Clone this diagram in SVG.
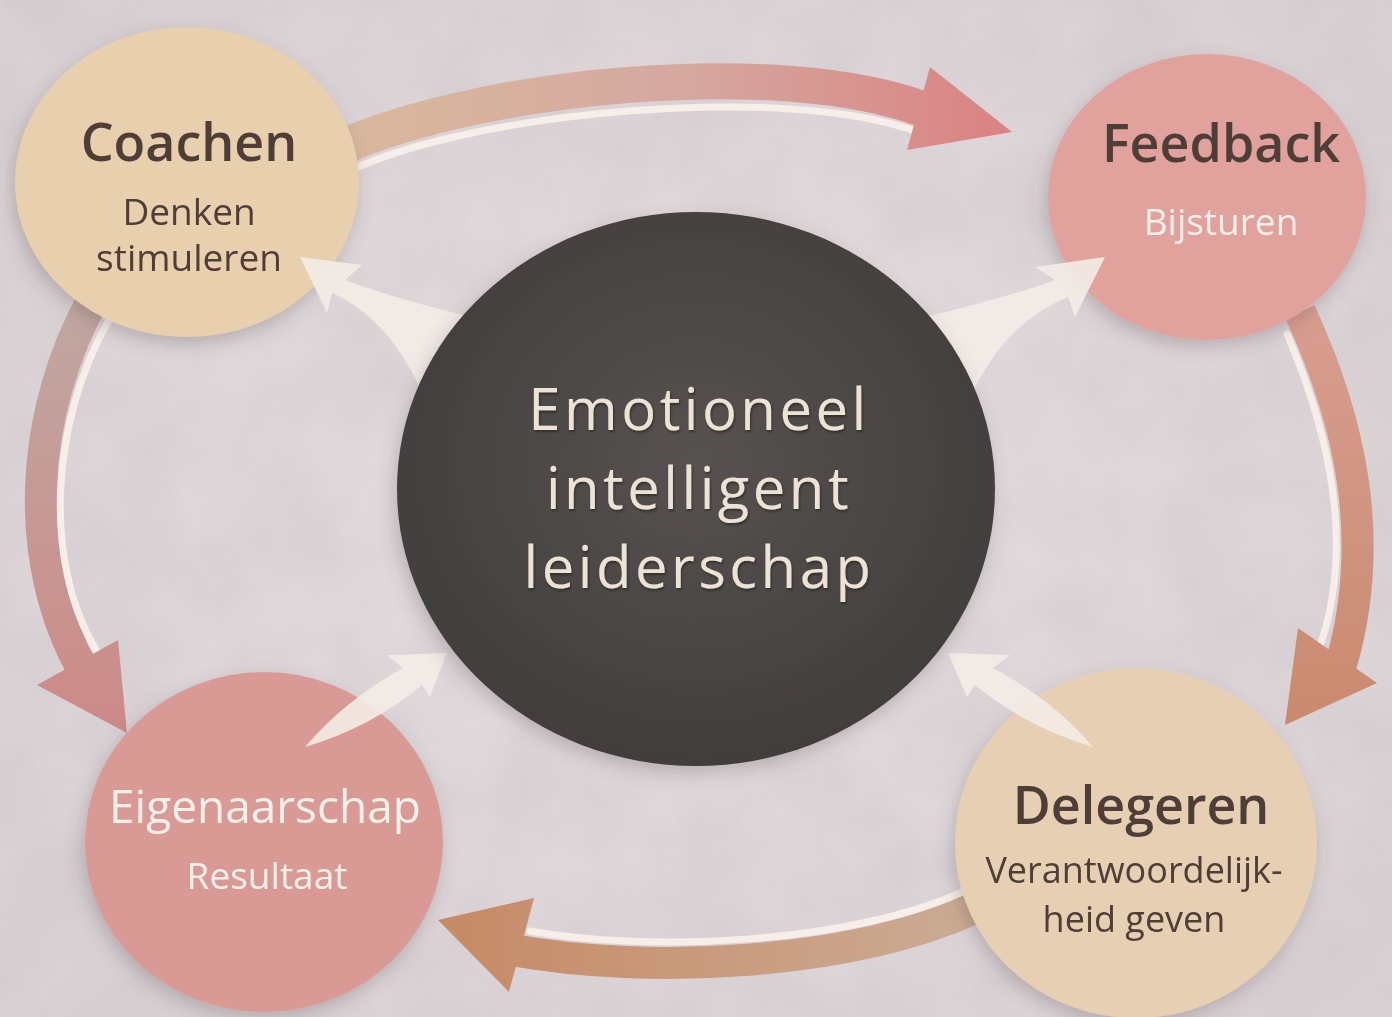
<svg xmlns="http://www.w3.org/2000/svg" width="1392" height="1017" viewBox="0 0 1392 1017">
  <defs>
    <style>
      .lbl { font-family: "Open Sans", "Noto Sans", "DejaVu Sans", sans-serif; text-anchor: middle; }
      .title { font-size: 52px; font-weight: 600; }
      .sub { font-size: 37px; }
      .center { font-size: 58px; fill: #ece2d5; letter-spacing: 3.5px; }
      .dark { fill: #4f3e38; }
      .light { fill: #f8f0ea; }
      .band { fill: none; stroke-linecap: butt; }
      .hl { fill: none; stroke: #f7ede9; stroke-width: 7; stroke-linecap: round; }
      .warrow { fill: #f3ece7; fill-opacity: 0.9; }
    </style>
    <filter id="paper" x="0" y="0" width="100%" height="100%">
      <feTurbulence type="fractalNoise" baseFrequency="0.012" numOctaves="4" seed="7"/>
      <feColorMatrix type="matrix" values="0 0 0 0 0.55  0 0 0 0 0.52  0 0 0 0 0.55  0 0 0 0.8 -0.22"/>
    </filter>
    <filter id="shadow" x="-20%" y="-20%" width="140%" height="140%">
      <feDropShadow dx="-3" dy="7" stdDeviation="9" flood-color="#5a4a48" flood-opacity="0.28"/>
    </filter>
    <filter id="emboss" x="-5%" y="-5%" width="110%" height="110%">
      <feDropShadow dx="1" dy="2" stdDeviation="1.2" flood-color="#1c1a19" flood-opacity="0.6"/>
    </filter>
    <radialGradient id="bgGrad" cx="50%" cy="50%" r="70%">
      <stop offset="0" stop-color="#e5dee1"/>
      <stop offset="1" stop-color="#d8d0d3"/>
    </radialGradient>
    <radialGradient id="centerGrad" cx="50%" cy="45%" r="55%">
      <stop offset="0" stop-color="#575251"/>
      <stop offset="1" stop-color="#423e3d"/>
    </radialGradient>
    <linearGradient id="gTop" gradientUnits="userSpaceOnUse" x1="350" y1="0" x2="1012" y2="0">
      <stop offset="0" stop-color="#d9b89d"/>
      <stop offset="0.5" stop-color="#d5a8a0"/>
      <stop offset="1" stop-color="#da8282"/>
    </linearGradient>
    <linearGradient id="gRight" gradientUnits="userSpaceOnUse" x1="0" y1="320" x2="0" y2="725">
      <stop offset="0" stop-color="#d89d90"/>
      <stop offset="1" stop-color="#c98a6e"/>
    </linearGradient>
    <linearGradient id="gBottom" gradientUnits="userSpaceOnUse" x1="965" y1="0" x2="438" y2="0">
      <stop offset="0" stop-color="#cbab93"/>
      <stop offset="1" stop-color="#c68a66"/>
    </linearGradient>
    <linearGradient id="gLeft" gradientUnits="userSpaceOnUse" x1="0" y1="300" x2="0" y2="735">
      <stop offset="0" stop-color="#c0a7a2"/>
      <stop offset="1" stop-color="#cd8a87"/>
    </linearGradient>
  </defs>

  <!-- background -->
  <rect x="0" y="0" width="1392" height="1017" fill="url(#bgGrad)"/>
  <rect x="0" y="0" width="1392" height="1017" filter="url(#paper)" opacity="0.6"/>

  <!-- cycle connectors (behind nodes) -->
  <g id="connectors">
    <g id="arrow-coachen-feedback">
      <path class="band" d="M 340,148 C 480,85 780,55 925,110" stroke="url(#gTop)" stroke-width="36"/>
      <path class="hl" d="M 356,168 C 480,112 780,84 912,130"/>
      <polygon points="930,67 1012,132 907,150" fill="url(#gTop)"/>
    </g>
    <g id="arrow-feedback-delegeren">
      <path class="band" d="M 1300,312 C 1350,420 1378,540 1340,668" stroke="url(#gRight)" stroke-width="32"/>
      <path class="hl" d="M 1287,334 C 1328,430 1355,540 1321,643"/>
      <polygon points="1298,628 1377,683 1285,725" fill="url(#gRight)"/>
    </g>
    <g id="arrow-delegeren-eigenaarschap">
      <path class="band" d="M 975,908 C 850,965 650,975 512,950" stroke="url(#gBottom)" stroke-width="32"/>
      <path class="hl" d="M 962,892 C 850,943 650,953 530,931"/>
      <polygon points="534,898 438,920 509,992" fill="url(#gBottom)"/>
    </g>
    <g id="arrow-coachen-eigenaarschap">
      <path class="band" d="M 95,296 C 30,410 20,560 84,672" stroke="url(#gLeft)" stroke-width="32"/>
      <path class="hl" d="M 108,322 C 52,420 42,560 96,650"/>
      <polygon points="37,685 118,640 127,733" fill="url(#gLeft)"/>
    </g>
  </g>

  <!-- outer nodes -->
  <g id="node-coachen" filter="url(#shadow)">
    <ellipse cx="187" cy="182" rx="172" ry="155" fill="#e8cfae"/>
    <text class="lbl title dark" x="189" y="161">Coachen</text>
    <text class="lbl sub dark" x="189" y="225">Denken</text>
    <text class="lbl sub dark" x="189" y="271">stimuleren</text>
  </g>
  <g id="node-feedback" filter="url(#shadow)">
    <ellipse cx="1207" cy="197" rx="159" ry="143" fill="#e1a29d"/>
    <text class="lbl title dark" x="1221" y="162">Feedback</text>
    <text class="lbl sub light" x="1221" y="235">Bijsturen</text>
  </g>
  <g id="node-eigenaarschap" filter="url(#shadow)">
    <ellipse cx="264" cy="842" rx="179" ry="170" fill="#d99a95"/>
    <text class="lbl light" x="265" y="823" font-size="46">Eigenaarschap</text>
    <text class="lbl sub light" x="267" y="889">Resultaat</text>
  </g>
  <g id="node-delegeren" filter="url(#shadow)">
    <ellipse cx="1136" cy="843" rx="181" ry="175" fill="#e6cfb3"/>
    <text class="lbl title dark" x="1141" y="824">Delegeren</text>
    <text class="lbl dark" x="1134" y="883" font-size="36">Verantwoordelijk-</text>
    <text class="lbl dark" x="1134" y="932" font-size="36">heid geven</text>
  </g>

  <!-- centre connectors -->
  <g id="connectors-centre">
    <path class="warrow" d="M 475,318 Q 400,300 345,280 L 362,265 L 300,257 L 327,313 L 332,293 Q 392,320 424,398 Z"/>
    <path class="warrow" d="M 920,318 Q 1000,300 1055,280 L 1035,267 L 1105,257 L 1075,317 L 1068,297 Q 1005,322 970,398 Z"/>
    <path class="warrow" d="M 305,747 Q 345,700 403,668 L 387,655 L 447,653 L 430,697 L 422,685 Q 372,727 305,747 Z"/>
    <path class="warrow" d="M 1093,747 Q 1053,700 993,668 L 1010,655 L 948,653 L 967,697 L 975,685 Q 1026,727 1093,747 Z"/>
  </g>

  <!-- central node -->
  <g id="node-center" filter="url(#shadow)">
    <ellipse cx="696" cy="489" rx="299" ry="277" fill="url(#centerGrad)"/>
    <g filter="url(#emboss)">
      <text class="lbl center" x="699" y="430">Emotioneel</text>
      <text class="lbl center" x="699" y="509">intelligent</text>
      <text class="lbl center" x="699" y="588">leiderschap</text>
    </g>
  </g>
</svg>
